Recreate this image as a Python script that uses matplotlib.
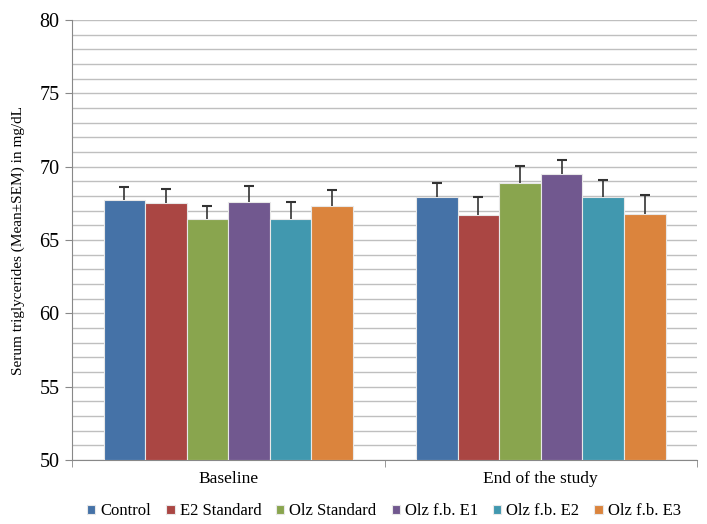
import matplotlib
matplotlib.use("Agg")
import matplotlib.pyplot as plt
import numpy as np

categories = ["Baseline", "End of the study"]
series = ["Control", "E2 Standard", "Olz Standard", "Olz f.b. E1", "Olz f.b. E2", "Olz f.b. E3"]
means = {
    "Control":      [67.7, 67.9],
    "E2 Standard":  [67.5, 66.7],
    "Olz Standard": [66.4, 68.9],
    "Olz f.b. E1":  [67.6, 69.5],
    "Olz f.b. E2":  [66.45, 67.9],
    "Olz f.b. E3":  [67.3, 66.8],
}
sems = {
    "Control":      [0.9, 1.0],
    "E2 Standard":  [1.0, 1.2],
    "Olz Standard": [0.95, 1.15],
    "Olz f.b. E1":  [1.1, 0.97],
    "Olz f.b. E2":  [1.15, 1.18],
    "Olz f.b. E3":  [1.1, 1.27],
}
colors = ["#4572A7", "#AA4643", "#89A54E", "#71588F", "#4198AF", "#DB843D"]
y_ticks = [50, 55, 60, 65, 70, 75, 80]

plt.rcParams['font.family'] = ['Liberation Serif', 'DejaVu Serif']

fig = plt.figure(figsize=(7.07, 5.24), dpi=100)
ax = fig.add_axes([0.1018, 0.1221, 0.8842, 0.8397])

x = np.arange(len(categories))
w = 0.133
for i, s in enumerate(series):
    pos = x + (i - 2.5) * w
    m = np.array(means[s])
    e = np.array(sems[s])
    ax.bar(pos, m - 50, bottom=50, width=w, color=colors[i],
           edgecolor="#E8E8E8", linewidth=0.8, label=s, zorder=3)
    ax.errorbar(pos, m, yerr=[np.zeros_like(e), e], fmt="none", ecolor="#333333",
                elinewidth=1.2, capsize=0, zorder=4)
    ax.plot(pos, m + e, linestyle="none", marker="_", markersize=7,
            markeredgewidth=1.5, color="#333333", zorder=4)

ax.set_ylim(50, 80)
ax.set_xlim(-0.5, 1.5)
ax.set_yticks(y_ticks)
ax.set_yticks(np.arange(50, 81, 1), minor=True)
ax.grid(True, axis="y", which="both", color="#BFBFBF", linewidth=1.0, zorder=0)
ax.set_axisbelow(True)
ax.tick_params(axis="y", which="major", labelsize=14.5, length=5, color="#888888", direction="out", pad=4)
ax.tick_params(axis="y", which="minor", length=0)
ax.set_xticks(x)
ax.set_xticklabels(categories, fontsize=12.5)
ax.tick_params(axis="x", which="major", length=0, pad=8)
ax.set_xticks([-0.5, 0.5, 1.5], minor=True)
ax.tick_params(axis="x", which="minor", length=5, color="#888888", direction="out")
for sp in ["top", "right"]:
    ax.spines[sp].set_visible(False)
ax.spines["left"].set_color("#888888")
ax.spines["bottom"].set_color("#888888")
ax.set_ylabel("Serum triglycerides (Mean±SEM) in mg/dL", fontsize=11, labelpad=10)

fig.legend(loc="lower center", bbox_to_anchor=(0.543, -0.02), ncol=6, frameon=False,
           fontsize=12, handlelength=0.5, handleheight=0.5, handletextpad=0.3,
           columnspacing=0.9)

fig.savefig("out.png", dpi=100)
